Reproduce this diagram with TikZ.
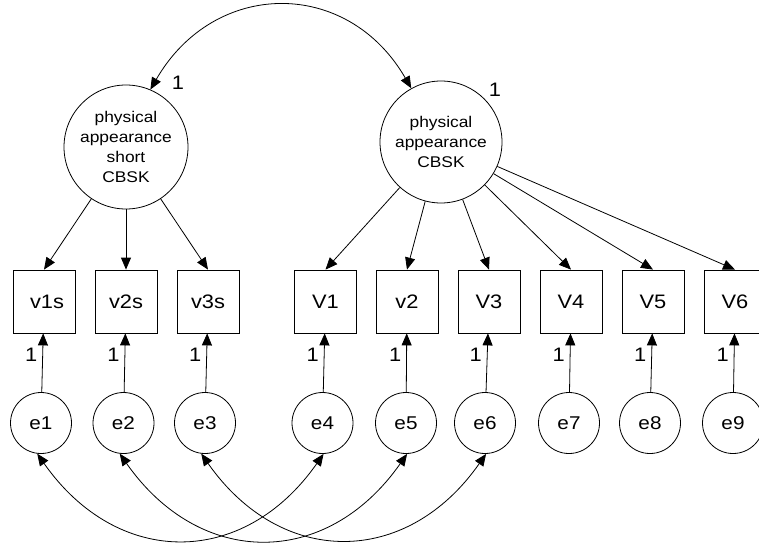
\documentclass[tikz,border=0pt]{standalone}
\usepackage{fontspec}
\setmainfont{Liberation Sans}[FakeStretch=1.12]
\usetikzlibrary{arrows.meta}
\tikzset{
    latent-var/.style = {draw, circle, inner sep=0pt, align=center, font=\fontsize{15.5}{20}\selectfont},
    observed-box/.style = {draw, rectangle, minimum width=62pt, minimum height=63pt, inner sep=0pt, font=\fontsize{19.5}{22}\selectfont},
    error-var/.style = {draw, circle, minimum size=61pt, inner sep=0pt, font=\fontsize{18.5}{22}\selectfont},
    path-arrow/.style = {-{Triangle[length=12pt,width=10pt]}},
    cov-arrow/.style = {{Triangle[length=12pt,width=10pt]}-{Triangle[length=12pt,width=10pt]}},
    one-label/.style = {font=\fontsize{19.5}{22}\selectfont, inner sep=1pt},
}

\begin{document}
\begin{tikzpicture}[x=1pt, y=1pt, line width=0.8pt]
\useasboundingbox (0,0) rectangle (759,547);

% latent factors
\node [latent-var, minimum size=124pt] (appShort) at (126,400) {physical\\appearance\\short\\CBSK};
\node [latent-var, minimum size=122pt] (appFull) at (441,405) {physical\\appearance\\CBSK};
\node [one-label] (varShort) at (178,464) {1};
\node [one-label] (varFull) at (495,457) {1};

% indicators
\node [observed-box] (v1s) at (44,245.5) {\hspace{6pt}v1s};
\node [observed-box] (v2s) at (126,245.5) {v2s};
\node [observed-box] (v3s) at (208,245.5) {v3s};
\node [observed-box] (V1) at (325.5,245.5) {V1\hspace{8pt}};
\node [observed-box] (V2) at (407,245.5) {v2};
\node [observed-box] (V3) at (489,245.5) {V3\hspace{4pt}};
\node [observed-box] (V4) at (571,245.5) {V4};
\node [observed-box] (V5) at (653,245.5) {V5};
\node [observed-box] (V6) at (735,245.5) {V6\hspace{4pt}};

% errors
\node [error-var] (e1) at (41,124) {e1\hspace{14pt}};
\node [error-var] (e2) at (123.5,124) {e2\hspace{10pt}};
\node [error-var] (e3) at (205,124) {e3\hspace{10pt}};
\node [error-var] (e4) at (322.5,124) {e4\hspace{10pt}};
\node [error-var] (e5) at (406,124) {e5\hspace{10pt}};
\node [error-var] (e6) at (485,124) {e6\hspace{10pt}};
\node [error-var] (e7) at (569,124) {e7\hspace{10pt}};
\node [error-var] (e8) at (650,124) {e8\hspace{10pt}};
\node [error-var] (e9) at (733,124) {e9\hspace{10pt}};

% loadings
\foreach \ind in {v1s,v2s,v3s}
    \draw [path-arrow] (appShort) -- (\ind.north);
\foreach \ind in {V1,V2,V3,V4,V5,V6}
    \draw [path-arrow] (appFull) -- (\ind.north);

% error paths
\foreach \err/\ind in {e1/v1s,e2/v2s,e3/v3s,e4/V1,e5/V2,e6/V3,e7/V4,e8/V5,e9/V6}
    \draw [path-arrow] (\err) -- node [one-label, pos=0.63, left=4pt] (w\err) {1} (\ind);

% covariances
\draw [cov-arrow] (appShort.67) to [out=60, in=120, looseness=1.25] (appFull.119);
\draw [cov-arrow] (e1.-97) to [out=-55, in=-125, looseness=1.25] (e4.-88);
\draw [cov-arrow] (e2.-97) to [out=-55, in=-125, looseness=1.25] (e5.-88);
\draw [cov-arrow] (e3.-97) to [out=-55, in=-125, looseness=1.25] (e6.-88);
\end{tikzpicture}
\end{document}
